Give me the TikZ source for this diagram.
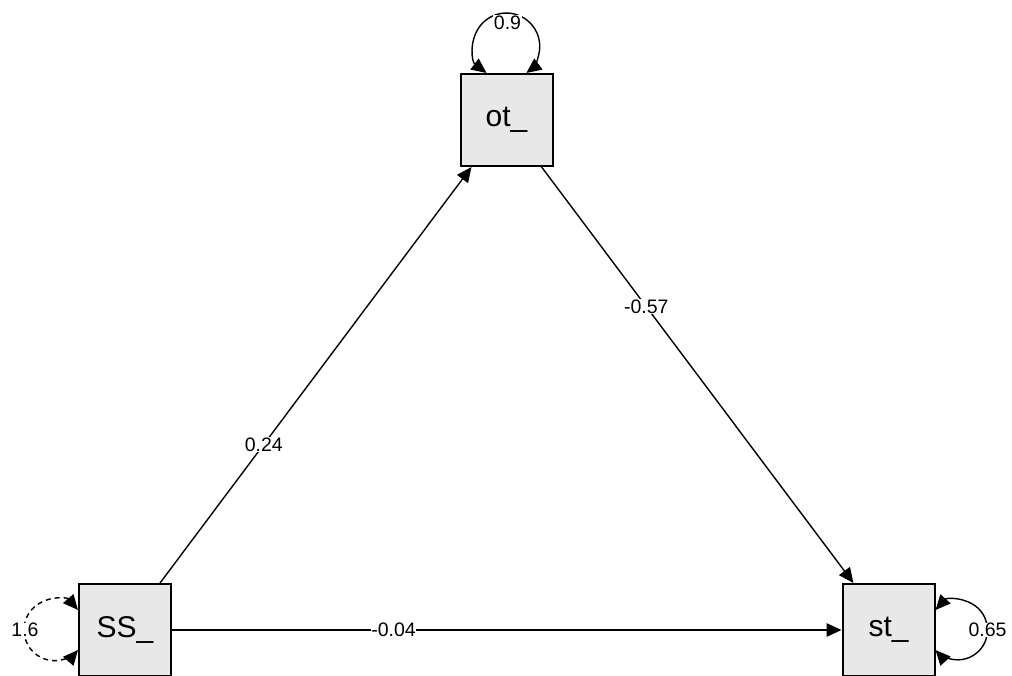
\documentclass[tikz,border=0pt]{standalone}
\usepackage{fontspec}
\setmainfont{Liberation Sans}
\usetikzlibrary{arrows.meta,calc}
\definecolor{boxfill}{RGB}{232,232,232}
\begin{document}
\begin{tikzpicture}[x=1pt,y=1pt,
  var/.style={draw=black, line width=2pt, fill=boxfill, minimum width=92pt, minimum height=92pt, inner sep=0pt, font=\fontsize{30}{36}\selectfont},
  edgeline/.style={line width=1.4pt, -{Triangle[length=15pt,width=13.5pt]}},
  loopline/.style={line width=1.4pt, {Triangle[length=15pt,width=13.5pt]}-{Triangle[length=15pt,width=13.5pt]}},
  lbl/.style={fill=white, inner sep=0.5pt, font=\fontsize{19.5}{23}\selectfont}
]
\useasboundingbox (0,0) rectangle (1012,675);
\node[var] (ot) at (506.5,555) {ot\_};
\node[var] (ss) at (125,45) {SS\_};
\node[var] (st) at (888.5,45) {st\_};

\draw[edgeline] (ss) -- node[lbl, pos=0.333] {0.24} (ot);
\draw[edgeline] (ot) -- node[lbl, pos=0.336] {-0.57} (st);
\draw[edgeline] (ss) -- node[lbl, pos=0.331] {-0.04} (st);

\draw[loopline] ($(ot.north)+(-20,0)$) arc[start angle=233.2, end angle=-53.2, radius=33.3];
\draw[loopline, dash pattern=on 5pt off 4pt] ($(ss.west)+(0,20)$) arc[start angle=40.6, end angle=319.4, radius=30.7];
\draw[loopline] ($(st.east)+(0,20)$) arc[start angle=137.9, end angle=-137.9, radius=29.85];

\node[lbl] (l09) at (507.5,652.5) {0.9};
\node[lbl] (l16) at (25,45) {1.6};
\node[lbl] (l065) at (987.5,45) {0.65};
\end{tikzpicture}
\end{document}
